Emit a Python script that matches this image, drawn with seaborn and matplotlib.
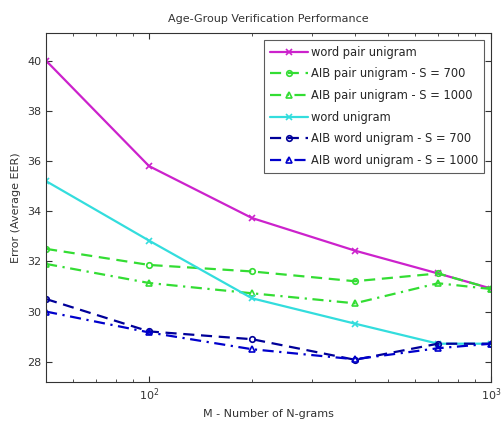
import pandas as pd
import matplotlib.pyplot as plt
import seaborn as sns

# Dados
m_values = [50, 100, 200, 400, 700, 1000]
word_pair_unigram = [40.0, 35.8, 33.73, 32.43, 31.52, 30.92]
aib_pair_700 = [32.5, 31.86, 31.6, 31.21, 31.52, 30.92]
aib_pair_1000 = [31.9, 31.14, 30.73, 30.33, 31.13, 30.9]
word_unigram = [35.2, 32.83, 30.53, 29.52, 28.72, 28.72]
aib_word_700 = [30.5, 29.21, 28.9, 28.08, 28.72, 28.72]
aib_word_1000 = [30.0, 29.17, 28.5, 28.1, 28.54, 28.72]

series = [
    ('word pair unigram', word_pair_unigram, '#cc22cc', 'x', '-'),
    ('AIB pair unigram - S = 700', aib_pair_700, '#33dd33', 'o', (0, (5, 3))),
    ('AIB pair unigram - S = 1000', aib_pair_1000, '#33dd33', '^', (0, (5, 2.5, 1, 2.5))),
    ('word unigram', word_unigram, '#33dddd', 'x', '-'),
    ('AIB word unigram - S = 700', aib_word_700, '#000099', 'o', (0, (5, 3))),
    ('AIB word unigram - S = 1000', aib_word_1000, '#0000cc', '^', (0, (5, 2.5, 1, 2.5))),
]

sns.set_style('ticks')
plt.rcParams['font.family'] = ['DejaVu Sans']

fig = plt.figure(figsize=(5.01, 4.30), dpi=100)
ax = fig.add_axes([0.092, 0.112, 0.888, 0.811])

for nome, valores, cor, marcador, estilo in series:
    df = pd.DataFrame({'M': m_values, 'Erro': valores})
    sns.lineplot(data=df, x='M', y='Erro', ax=ax, color=cor, marker=marcador,
                 linestyle=estilo, linewidth=1.6, markersize=4,
                 markerfacecolor='none', markeredgecolor=cor, markeredgewidth=1.2,
                 label=nome)

ax.set_xscale('log')
ax.set_xlim(50, 1000)
ax.set_ylim(27.2, 41.1)
ax.set_yticks([28, 30, 32, 34, 36, 38, 40])

ax.tick_params(which='both', direction='in', top=True, right=True, labelsize=8, colors='#333333')
ax.tick_params(which='major', length=4)
ax.tick_params(which='minor', length=2.5)
for s in ax.spines.values():
    s.set_color('#333333')
    s.set_linewidth(0.8)

ax.set_title('Age-Group Verification Performance', fontsize=8, color='#333333', pad=8)
ax.set_xlabel('M - Number of N-grams', fontsize=8, color='#333333')
ax.set_ylabel('Error (Average EER)', fontsize=8, color='#333333')

leg = ax.legend(loc='upper right', fontsize=8.3, frameon=True, fancybox=False,
                edgecolor='#333333', handlelength=3.3, borderaxespad=0.6,
                labelspacing=0.75, handletextpad=0.3, borderpad=0.5)
leg.get_frame().set_linewidth(0.8)

plt.savefig('out.png', dpi=100)
